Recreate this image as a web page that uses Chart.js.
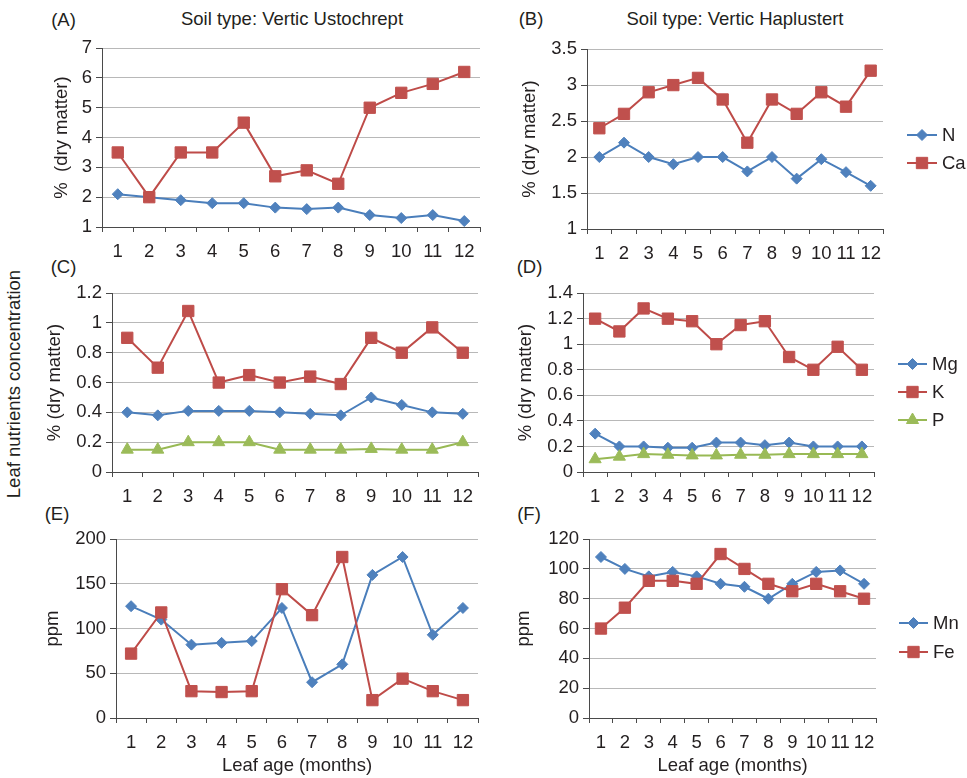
<!DOCTYPE html>
<html>
<head>
<meta charset="utf-8">
<title>Leaf nutrients concentration</title>
<script src="https://cdn.jsdelivr.net/npm/chart.js@4.4.1/dist/chart.umd.min.js"></script>
<style>
  html, body { margin: 0; background: #fff; }
  #fig { position: relative; width: 967px; height: 778px; overflow: hidden;
         font-family: 'Liberation Sans', Arial, sans-serif; color: #231f20; }
  #fig canvas { position: absolute; }
  .lbl { position: absolute; font-size: 18.5px; line-height: 19px; white-space: nowrap;
         transform: translate(-50%, -50%); }
  .rot { transform: translate(-50%, -50%) rotate(-90deg); }
</style>
</head>
<body>
<div id="fig">
  <div class="lbl" style="left:63.5px;top:19px">(A)</div>
  <div class="lbl" style="left:292px;top:18px">Soil type: Vertic Ustochrept</div>
  <div class="lbl" style="left:531px;top:18px">(B)</div>
  <div class="lbl" style="left:735px;top:18px">Soil type: Vertic Haplustert</div>
  <div class="lbl" style="left:63.5px;top:266px">(C)</div>
  <div class="lbl" style="left:529.5px;top:266px">(D)</div>
  <div class="lbl" style="left:57px;top:513px">(E)</div>
  <div class="lbl" style="left:529px;top:513px">(F)</div>
  <div class="lbl rot" style="left:13px;top:384px">Leaf nutrients concentration</div>
</div>
<script>
// ---- data ----
const months = ["1", "2", "3", "4", "5", "6", "7", "8", "9", "10", "11", "12"];

// (A) Vertic Ustochrept, % dry matter
const nA  = [2.1, 2.0, 1.9, 1.8, 1.8, 1.65, 1.6, 1.65, 1.4, 1.3, 1.4, 1.2];
const caA = [3.5, 2.0, 3.5, 3.5, 4.5, 2.7, 2.9, 2.45, 5.0, 5.5, 5.8, 6.2];
const yTicksA = [1, 2, 3, 4, 5, 6, 7];

// (B) Vertic Haplustert, % dry matter
const nB  = [2.0, 2.2, 2.0, 1.9, 2.0, 2.0, 1.8, 2.0, 1.7, 1.97, 1.79, 1.6];
const caB = [2.4, 2.6, 2.9, 3.0, 3.1, 2.8, 2.2, 2.8, 2.6, 2.9, 2.7, 3.2];
const yTicksB = [1, 1.5, 2, 2.5, 3, 3.5];

// (C) Vertic Ustochrept
const mgC = [0.4, 0.38, 0.41, 0.41, 0.41, 0.4, 0.39, 0.38, 0.5, 0.45, 0.4, 0.39];
const kC  = [0.9, 0.7, 1.08, 0.6, 0.65, 0.6, 0.64, 0.59, 0.9, 0.8, 0.97, 0.8];
const pC  = [0.15, 0.15, 0.2, 0.2, 0.2, 0.15, 0.15, 0.15, 0.155, 0.15, 0.15, 0.2];
const yTicksC = [0, 0.2, 0.4, 0.6, 0.8, 1, 1.2];

// (D) Vertic Haplustert
const mgD = [0.3, 0.2, 0.2, 0.19, 0.19, 0.23, 0.23, 0.21, 0.23, 0.2, 0.2, 0.2];
const kD  = [1.2, 1.1, 1.28, 1.2, 1.18, 1.0, 1.15, 1.18, 0.9, 0.8, 0.98, 0.8];
const pD  = [0.1, 0.12, 0.14, 0.135, 0.13, 0.13, 0.135, 0.135, 0.14, 0.14, 0.14, 0.14];
const yTicksD = [0, 0.2, 0.4, 0.6, 0.8, 1, 1.2, 1.4];

// (E) Vertic Ustochrept, ppm
const mnE = [125, 110, 82, 84, 86, 123, 40, 60, 160, 180, 93, 123];
const feE = [72, 118, 30, 29, 30, 144, 115, 180, 20, 44, 30, 20];
const yTicksE = [0, 50, 100, 150, 200];

// (F) Vertic Haplustert, ppm
const mnF = [108, 100, 95, 98, 95, 90, 88, 80, 90, 98, 99, 90];
const feF = [60, 74, 92, 92, 90, 110, 100, 90, 85, 90, 85, 80];
const yTicksF = [0, 20, 40, 60, 80, 100, 120];

// ---- theme ----
const C = {
  blueLine: "#4a7ebb", blue: "#4f81bd",
  redLine: "#be4b48", red: "#c0504d",
  greenLine: "#98b954", green: "#9bbb59",
  ink: "#231f20", axis: "#4a4a4a", grid: "#b8b8b8",
};
const FONT = "'Liberation Sans', Arial, sans-serif";
const FS = 18.5;
Chart.defaults.font.family = FONT;
Chart.defaults.font.size = FS;
Chart.defaults.color = C.ink;

const MARK = {
  diamond:  { line: C.blueLine,  fill: C.blue,  style: "rectRot",  r: 5.5 },
  square:   { line: C.redLine,   fill: C.red,   style: "rect",     r: 8 },
  triangle: { line: C.greenLine, fill: C.green, style: "triangle", r: 7 },
};

function series(label, data, kind, order) {
  const m = MARK[kind];
  return {
    label, data, order,
    borderColor: m.line, borderWidth: 2, tension: 0,
    pointStyle: m.style, pointRadius: m.r, pointBorderWidth: 1,
    pointBackgroundColor: m.fill, pointBorderColor: m.fill,
  };
}

// line + marker legend drawn in the right padding of a chart
const sideLegend = {
  id: "sideLegend",
  afterDraw(chart, args, opts) {
    if (!opts || !opts.ys) return;
    const ctx = chart.ctx;
    ctx.save();
    chart.data.datasets.forEach((ds, i) => {
      const y = opts.ys[i], x0 = opts.x0, x1 = opts.x0 + opts.len;
      ctx.strokeStyle = ds.borderColor;
      ctx.lineWidth = 2;
      ctx.beginPath(); ctx.moveTo(x0, y); ctx.lineTo(x1, y); ctx.stroke();
      ctx.fillStyle = ds.pointBackgroundColor;
      ctx.strokeStyle = ds.pointBorderColor;
      ctx.lineWidth = 1;
      Chart.helpers.drawPoint(ctx, { pointStyle: ds.pointStyle, radius: ds.pointRadius, rotation: 0, borderWidth: 1 }, (x0 + x1) / 2, y);
      ctx.fillStyle = C.ink;
      ctx.font = FS + "px " + FONT;
      ctx.textAlign = "left";
      ctx.textBaseline = "middle";
      ctx.fillText(ds.label, x1 + 5, y + 1);
    });
    ctx.restore();
  },
};

const PAD_TOP = 14;
const fig = document.getElementById("fig");

function makePanel(p) {
  const left = p.cx, top = p.plot.t - PAD_TOP;
  const cv = document.createElement("canvas");
  cv.width = p.cr - left;
  cv.height = p.plot.b + p.xh - top;
  cv.style.left = left + "px";
  cv.style.top = top + "px";
  fig.appendChild(cv);
  return new Chart(cv, {
    type: "line",
    data: { labels: months, datasets: p.sets },
    options: {
      responsive: false, animation: false, events: [],
      layout: { padding: { top: PAD_TOP, right: p.cr - p.plot.r, left: 0, bottom: 0 } },
      plugins: {
        legend: { display: false }, tooltip: { enabled: false },
        sideLegend: p.legend ? { x0: p.legend.x0 - left, len: p.legend.len, ys: p.legend.ys.map((y) => y - top) } : {},
      },
      scales: {
        x: {
          offset: true,
          grid: { offset: true, drawOnChartArea: false, tickLength: 5, tickColor: C.axis },
          border: { color: C.axis, width: 1 },
          ticks: { padding: 9, maxRotation: 0, autoSkip: false, color: C.ink },
          title: { display: !!p.xTitle, text: p.xTitle || "", padding: 0, color: C.ink },
          afterFit: (s) => { s.height = p.xh; },
        },
        y: {
          min: p.yTicks[0], max: p.yTicks[p.yTicks.length - 1],
          afterBuildTicks: (s) => { s.ticks = p.yTicks.map((v) => ({ value: v })); },
          ticks: { padding: 4, color: C.ink, callback: (v) => String(v) },
          grid: { color: C.grid, tickColor: C.axis, tickLength: 6, lineWidth: 1 },
          border: { color: C.axis, width: 1 },
          title: { display: true, text: p.yTitle, padding: 0, color: C.ink },
          afterFit: (s) => { s.width = p.plot.l - left; },
        },
      },
    },
    plugins: [sideLegend],
  });
}

makePanel({
  cx: 51, cr: 489, xh: 38, plot: { l: 102, r: 481, t: 47, b: 227 },
  yTicks: yTicksA, yTitle: "%  (dry matter)",
  sets: [series("N", nA, "diamond", 2), series("Ca", caA, "square", 1)],
});
makePanel({
  cx: 519, cr: 967, xh: 38, plot: { l: 587, r: 883, t: 48, b: 229 },
  yTicks: yTicksB, yTitle: "% (dry matter)",
  sets: [series("N", nB, "diamond", 2), series("Ca", caB, "square", 1)],
  legend: { x0: 907, len: 30, ys: [135, 163] },
});
makePanel({
  cx: 44, cr: 487, xh: 38, plot: { l: 112, r: 479, t: 292, b: 472 },
  yTicks: yTicksC, yTitle: "% (dry matter)",
  sets: [series("Mg", mgC, "diamond", 3), series("K", kC, "square", 2), series("P", pC, "triangle", 1)],
});
makePanel({
  cx: 515, cr: 967, xh: 38, plot: { l: 583, r: 874, t: 292, b: 472 },
  yTicks: yTicksD, yTitle: "% (dry matter)",
  sets: [series("Mg", mgD, "diamond", 3), series("K", kD, "square", 2), series("P", pD, "triangle", 1)],
  legend: { x0: 898, len: 29, ys: [364, 392, 420] },
});
makePanel({
  cx: 42, cr: 487, xh: 59, plot: { l: 116, r: 479, t: 538, b: 718 },
  yTicks: yTicksE, yTitle: "ppm", xTitle: "Leaf age (months)",
  sets: [series("Mn", mnE, "diamond", 2), series("Fe", feE, "square", 1)],
});
makePanel({
  cx: 513, cr: 967, xh: 59, plot: { l: 589, r: 876, t: 538, b: 718 },
  yTicks: yTicksF, yTitle: "ppm", xTitle: "Leaf age (months)",
  sets: [series("Mn", mnF, "diamond", 2), series("Fe", feF, "square", 1)],
  legend: { x0: 899, len: 29, ys: [623, 652] },
});
</script>
</body>
</html>
